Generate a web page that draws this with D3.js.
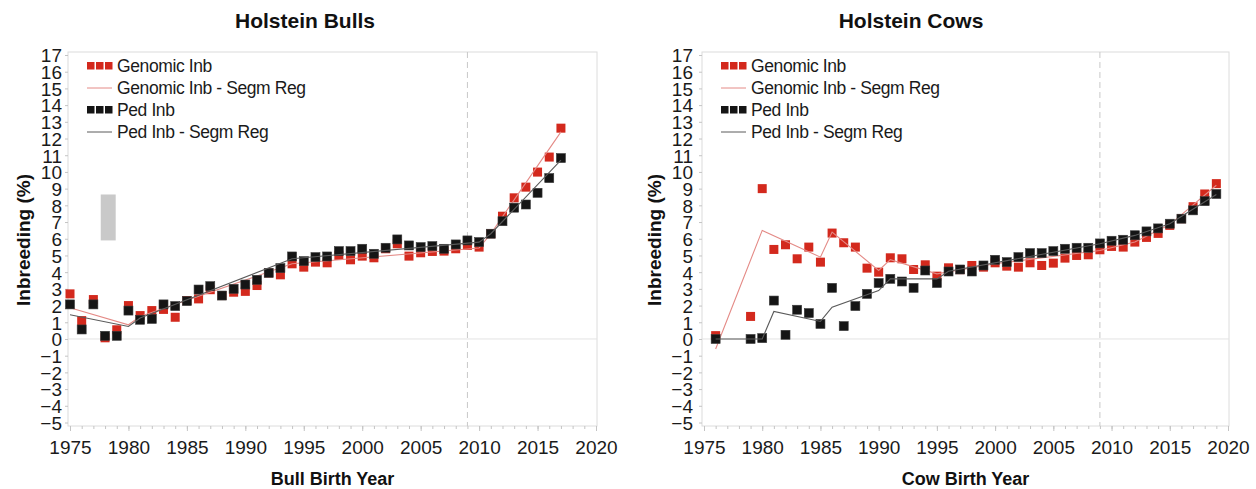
<!DOCTYPE html>
<html>
<head>
<meta charset="utf-8">
<script src="https://cdn.jsdelivr.net/npm/d3@7"></script>
<style>
  body { margin: 0; background: #fff; }
  svg { font-family: "Liberation Sans", Arial, sans-serif; }
</style>
</head>
<body>
<svg id="chart" width="1256" height="489"></svg>
<script>
// ---- data ----
var bullYears = [1975,1976,1977,1978,1979,1980,1981,1982,1983,1984,1985,1986,1987,1988,1989,1990,
  1991,1992,1993,1994,1995,1996,1997,1998,1999,2000,2001,2002,2003,2004,2005,2006,2007,2008,2009,2010,
  2011,2012,2013,2014,2015,2016,2017];
var bullGenomic = [2.7,1.1,2.36,0.07,0.55,2.0,1.4,1.7,1.77,1.3,2.3,2.4,2.95,2.6,2.8,2.85,
  3.2,3.95,3.84,4.5,4.3,4.6,4.56,5.0,4.74,4.96,4.86,5.4,5.7,4.96,5.16,5.24,5.26,5.4,5.6,5.5,
  6.3,7.35,8.45,9.09,9.99,10.89,12.62];
var bullPed = [2.07,0.57,2.07,0.19,0.19,1.7,1.15,1.2,2.07,1.97,2.27,2.96,3.16,2.6,3.0,3.26,
  3.54,3.96,4.24,4.94,4.66,4.9,4.94,5.26,5.26,5.4,5.1,5.46,5.96,5.6,5.5,5.56,5.4,5.66,5.9,5.8,
  6.3,7.05,7.86,8.05,8.75,9.63,10.83];

// segmented regression break points
var bullGenRegYears = [1975,1980,1981,1994,2010,2011,2017];
var bullGenRegVals  = [1.87,0.85,1.35,4.5,5.45,6.3,12.4];
var bullPedRegYears = [1975,1980,1981,1994,2010,2011,2017];
var bullPedRegVals  = [1.45,0.75,1.25,4.8,5.8,6.3,10.7];

var cowYears = [1976,1979,1980,1981,1982,1983,1984,1985,1986,1987,1988,1989,1990,1991,1992,1993,
  1994,1995,1996,1997,1998,1999,2000,2001,2002,2003,2004,2005,2006,2007,2008,2009,2010,2011,2012,
  2013,2014,2015,2016,2017,2018,2019];
var cowGenomic = [0.2,1.35,9.0,5.36,5.64,4.8,5.5,4.6,6.34,5.76,5.5,4.24,4.0,4.86,4.8,4.16,
  4.44,3.76,4.26,4.15,4.4,4.3,4.56,4.36,4.3,4.56,4.4,4.54,4.84,5.0,5.04,5.34,5.54,5.5,5.8,
  6.08,6.32,6.8,7.2,7.92,8.68,9.3];
var cowPed = [0.0,0.0,0.05,2.3,0.25,1.75,1.55,0.9,3.06,0.77,1.97,2.7,3.35,3.6,3.44,3.06,
  4.1,3.35,4.04,4.16,4.04,4.4,4.74,4.6,4.9,5.14,5.14,5.26,5.4,5.46,5.46,5.72,5.88,5.94,6.21,
  6.44,6.62,6.9,7.2,7.7,8.25,8.68];

var cowGenRegYears = [1976,1980,1985,1986,1990,1991,1995,2000,2009,2012,2015,2019];
var cowGenRegVals  = [-0.6,6.5,4.9,6.4,4.1,4.75,3.9,4.5,5.3,5.8,6.85,9.2];
var cowPedRegYears = [1976,1980,1981,1985,1986,1990,1991,1995,1996,2009,2012,2015,2019];
var cowPedRegVals  = [0,0,1.65,1.05,1.9,2.9,3.6,3.6,4.05,5.7,6.2,6.9,8.65];

var xTicks = [1975,1980,1985,1990,1995,2000,2005,2010,2015,2020];
var yTicks = [-5,-4,-3,-2,-1,0,1,2,3,4,5,6,7,8,9,10,11,12,13,14,15,16,17];
var legendLabels = ["Genomic Inb", "Genomic Inb - Segm Reg", "Ped Inb", "Ped Inb - Segm Reg"];
var genomicStartYear = 2009;

var RED = "#d3291d", BLACK = "#151515", RED_LINE = "#e48a86", BLACK_LINE = "#5a5a5a";

var svg = d3.select("#chart");

function zip(a, b) { return a.map(function(d, i) { return [d, b[i]]; }); }

function drawPanel(p) {
  var x = d3.scaleLinear().domain([1975, 2020]).range([p.x0, p.x1]);
  var y = d3.scaleLinear().domain([-5, 17]).range([422.5, 55]);
  var fl = p.x0 - 2, fr = p.x1 + 1, ft = 52, fb = 426;
  var g = svg.append("g");

  // frame
  g.append("rect").attr("x", fl).attr("y", ft).attr("width", fr - fl).attr("height", fb - ft)
    .attr("fill", "none").attr("stroke", "#dcdcdc").attr("stroke-width", 1);

  // zero line + genomic start line
  g.append("line").attr("x1", fl).attr("x2", fr).attr("y1", y(0)).attr("y2", y(0))
    .attr("stroke", "#e3e3e3");
  g.append("line").attr("x1", x(genomicStartYear)).attr("x2", x(genomicStartYear))
    .attr("y1", ft).attr("y2", fb).attr("stroke", "#c8c8c8").attr("stroke-dasharray", "6,4");

  // axes
  var xMinor = g.append("g").attr("transform", "translate(0," + fb + ")")
    .call(d3.axisBottom(x).tickValues(d3.range(1975, 2021)).tickSize(3).tickSizeOuter(0).tickFormat(""));
  var xMajor = g.append("g").attr("transform", "translate(0," + fb + ")")
    .call(d3.axisBottom(x).tickValues(xTicks).tickSize(5).tickSizeOuter(0).tickPadding(10).tickFormat(d3.format("d")));
  var yAx = g.append("g").attr("transform", "translate(" + fl + ",0)")
    .call(d3.axisLeft(y).tickValues(yTicks).tickSize(3).tickSizeOuter(0).tickPadding(p.ypad));
  [xMinor, xMajor, yAx].forEach(function(a) {
    a.select(".domain").remove();
    a.selectAll(".tick line").attr("stroke", "#c4c4c4");
    a.selectAll("text").attr("fill", "#1a1a1a").style("font-size", "19px")
      .style("font-family", "'Liberation Sans', Arial, sans-serif");
  });
  yAx.selectAll("text").attr("dy", "0.36em");

  // odd gray block (present in the source image)
  if (p.block) {
    g.append("rect").attr("x", x(p.block[0])).attr("width", x(p.block[1]) - x(p.block[0]))
      .attr("y", y(p.block[3])).attr("height", y(p.block[2]) - y(p.block[3])).attr("fill", "#c9c9c9");
  }

  var sq = 9;
  var line = d3.line().x(function(d) { return x(d[0]); }).y(function(d) { return y(d[1]); });

  g.selectAll(".gen").data(zip(p.years, p.gen)).enter().append("rect")
    .attr("x", function(d) { return x(d[0]) - sq / 2; })
    .attr("y", function(d) { return y(d[1]) - sq / 2; })
    .attr("width", sq).attr("height", sq).attr("fill", RED);
  g.append("path").datum(zip(p.genRegYears, p.genRegVals)).attr("d", line)
    .attr("fill", "none").attr("stroke", RED_LINE).attr("stroke-width", 1.1);

  g.selectAll(".ped").data(zip(p.years, p.ped)).enter().append("rect")
    .attr("x", function(d) { return x(d[0]) - sq / 2; })
    .attr("y", function(d) { return y(d[1]) - sq / 2; })
    .attr("width", sq).attr("height", sq).attr("fill", BLACK)
    .attr("stroke", "#3a3a3a").attr("stroke-width", 0.6);
  g.append("path").datum(zip(p.pedRegYears, p.pedRegVals)).attr("d", line)
    .attr("fill", "none").attr("stroke", BLACK_LINE).attr("stroke-width", 1.1);

  // legend
  var lx = fl + 19, ly = 66;
  legendLabels.forEach(function(lab, i) {
    var yy = ly + i * 22;
    var col = (i < 2) ? RED : BLACK;
    if (i % 2 === 0) {
      [0, 1, 2].forEach(function(k) {
        g.append("rect").attr("x", lx + k * 9).attr("y", yy - 4).attr("width", 7.5).attr("height", 7.5)
          .attr("fill", col);
      });
    } else {
      g.append("line").attr("x1", lx).attr("x2", lx + 25).attr("y1", yy).attr("y2", yy)
        .attr("stroke", i < 2 ? RED_LINE : BLACK_LINE).attr("stroke-width", 1);
    }
    g.append("text").attr("x", lx + 30).attr("y", yy + 6).text(lab)
      .attr("fill", "#1a1a1a").style("font-size", "17.5px").style("letter-spacing", "-0.4px");
  });

  // titles
  var cx = (fl + fr) / 2;
  g.append("text").attr("x", p.titleX).attr("y", 28).attr("text-anchor", "middle").text(p.title)
    .style("font-weight", "bold").style("font-size", "21px").attr("fill", "#111");
  g.append("text").attr("x", cx).attr("y", 485).attr("text-anchor", "middle").text(p.xTitle)
    .style("font-weight", "bold").style("font-size", "18px").attr("fill", "#111");
  g.append("text").attr("transform", "translate(" + p.yTitleX + "," + ((ft + fb) / 2 + 1) + ") rotate(-90)")
    .attr("text-anchor", "middle").text("Inbreeding (%)")
    .style("font-weight", "bold").style("font-size", "19px").attr("fill", "#111");
}

drawPanel({
  x0: 70, x1: 596, ypad: 3, yTitleX: 30, titleX: 305,
  title: "Holstein Bulls", xTitle: "Bull Birth Year",
  years: bullYears, gen: bullGenomic, ped: bullPed,
  genRegYears: bullGenRegYears, genRegVals: bullGenRegVals,
  pedRegYears: bullPedRegYears, pedRegVals: bullPedRegVals,
  block: [1977.63, 1978.91, 5.9, 8.65]
});
drawPanel({
  x0: 704, x1: 1228, ypad: 6, yTitleX: 661, titleX: 911,
  title: "Holstein Cows", xTitle: "Cow Birth Year",
  years: cowYears, gen: cowGenomic, ped: cowPed,
  genRegYears: cowGenRegYears, genRegVals: cowGenRegVals,
  pedRegYears: cowPedRegYears, pedRegVals: cowPedRegVals
});
</script>
</body>
</html>
